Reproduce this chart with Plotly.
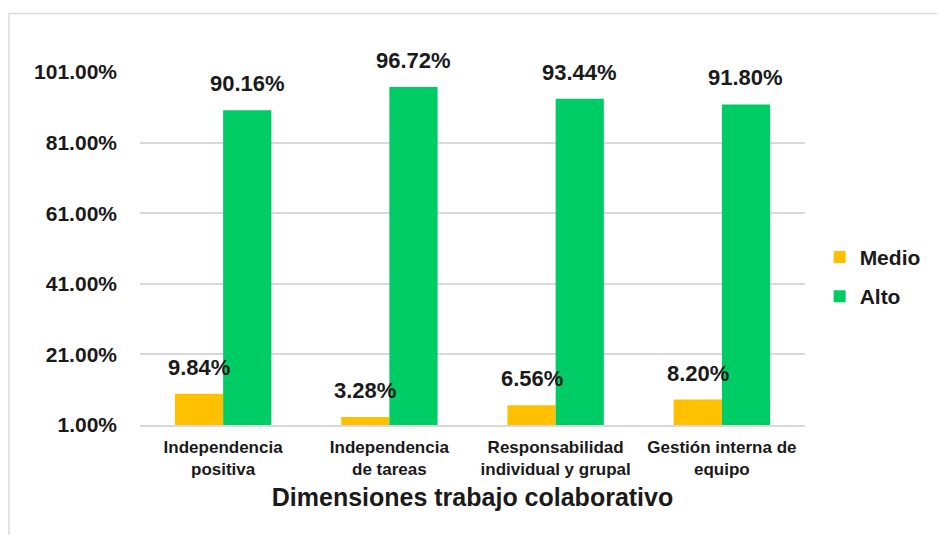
import plotly.graph_objects as go

categories = ["Independencia<br>positiva", "Independencia<br>de tareas",
              "Responsabilidad<br>individual y grupal", "Gestión interna de<br>equipo"]
medio = [9.84, 3.28, 6.56, 8.20]
alto = [90.16, 96.72, 93.44, 91.80]
tick_vals = [1, 21, 41, 61, 81, 101]
tick_text = ["1.00%", "21.00%", "41.00%", "61.00%", "81.00%", "101.00%"]

# page body adds an 8px margin, so the figure is 8px smaller than the window
W, H = 937, 527
L, T = 132, 64
pw, ph = 665, 353
R, B = W - L - pw, H - T - ph

FONT = "Liberation Sans, Arial, sans-serif"
TXT = "#1a1a1a"
C_MEDIO = "#FFC000"
C_ALTO = "#00CC66"

fig = go.Figure()
fig.add_trace(go.Bar(name="<b>Medio</b>", legendgroup="medio", x=categories, y=medio, base=0,
                     marker=dict(color=C_MEDIO, line_width=0), cliponaxis=False))
fig.add_trace(go.Bar(name="<b>Alto</b>", legendgroup="alto", x=categories, y=alto, base=0,
                     marker=dict(color=C_ALTO, line_width=0), cliponaxis=False))

bar_w = pw / len(categories) * 0.58 / 2
for vals, sh in ((medio, -bar_w / 2), (alto, bar_w / 2)):
    for c, v in zip(categories, vals):
        fig.add_annotation(x=c, y=v, text=f"<b>{v:.2f}%</b>", showarrow=False,
                           xshift=sh, yshift=12, yanchor="bottom",
                           font=dict(family=FONT, size=22, color=TXT))

# outer chart frame (left and top edges)
ytop = 1 + (T - 5.5) / ph
xl = (1 - L) / pw
fig.add_shape(type="line", xref="paper", yref="paper",
              x0=xl, x1=(W + 5 - L) / pw, y0=ytop, y1=ytop,
              line=dict(color="#D9D9D9", width=1.5))
fig.add_shape(type="line", xref="paper", yref="paper",
              x0=xl, x1=xl, y0=ytop, y1=-(H + 5 - T - ph) / ph,
              line=dict(color="#D9D9D9", width=1.5))

fig.update_layout(
    width=W, height=H,
    margin=dict(l=L, r=R, t=T, b=B),
    plot_bgcolor="white", paper_bgcolor="white",
    barmode="group", bargap=0.42, bargroupgap=0,
    font=dict(family=FONT, color=TXT),
    showlegend=True,
    legend=dict(x=1.022, y=0.42, xanchor="left", yanchor="middle",
                font=dict(family=FONT, size=21, color=TXT),
                itemsizing="constant", tracegroupgap=9, itemwidth=30),
    xaxis=dict(showgrid=False, showline=True, linecolor="#D9D9D9", linewidth=1.5,
               ticks="", ticklabelstandoff=6,
               tickfont=dict(family=FONT, size=17, color=TXT, weight="bold"),
               title=dict(text="<b>Dimensiones trabajo colaborativo</b>",
                          font=dict(family=FONT, size=25, color=TXT), standoff=10)),
    yaxis=dict(range=[1, 101], tickvals=tick_vals, ticktext=tick_text,
               showgrid=True, gridcolor="#D9D9D9", gridwidth=1.5,
               zeroline=False, showline=False, ticks="",
               ticklabelstandoff=22,
               tickfont=dict(family=FONT, size=21, color=TXT, weight="bold")),
)

fig.write_html("out.html")
